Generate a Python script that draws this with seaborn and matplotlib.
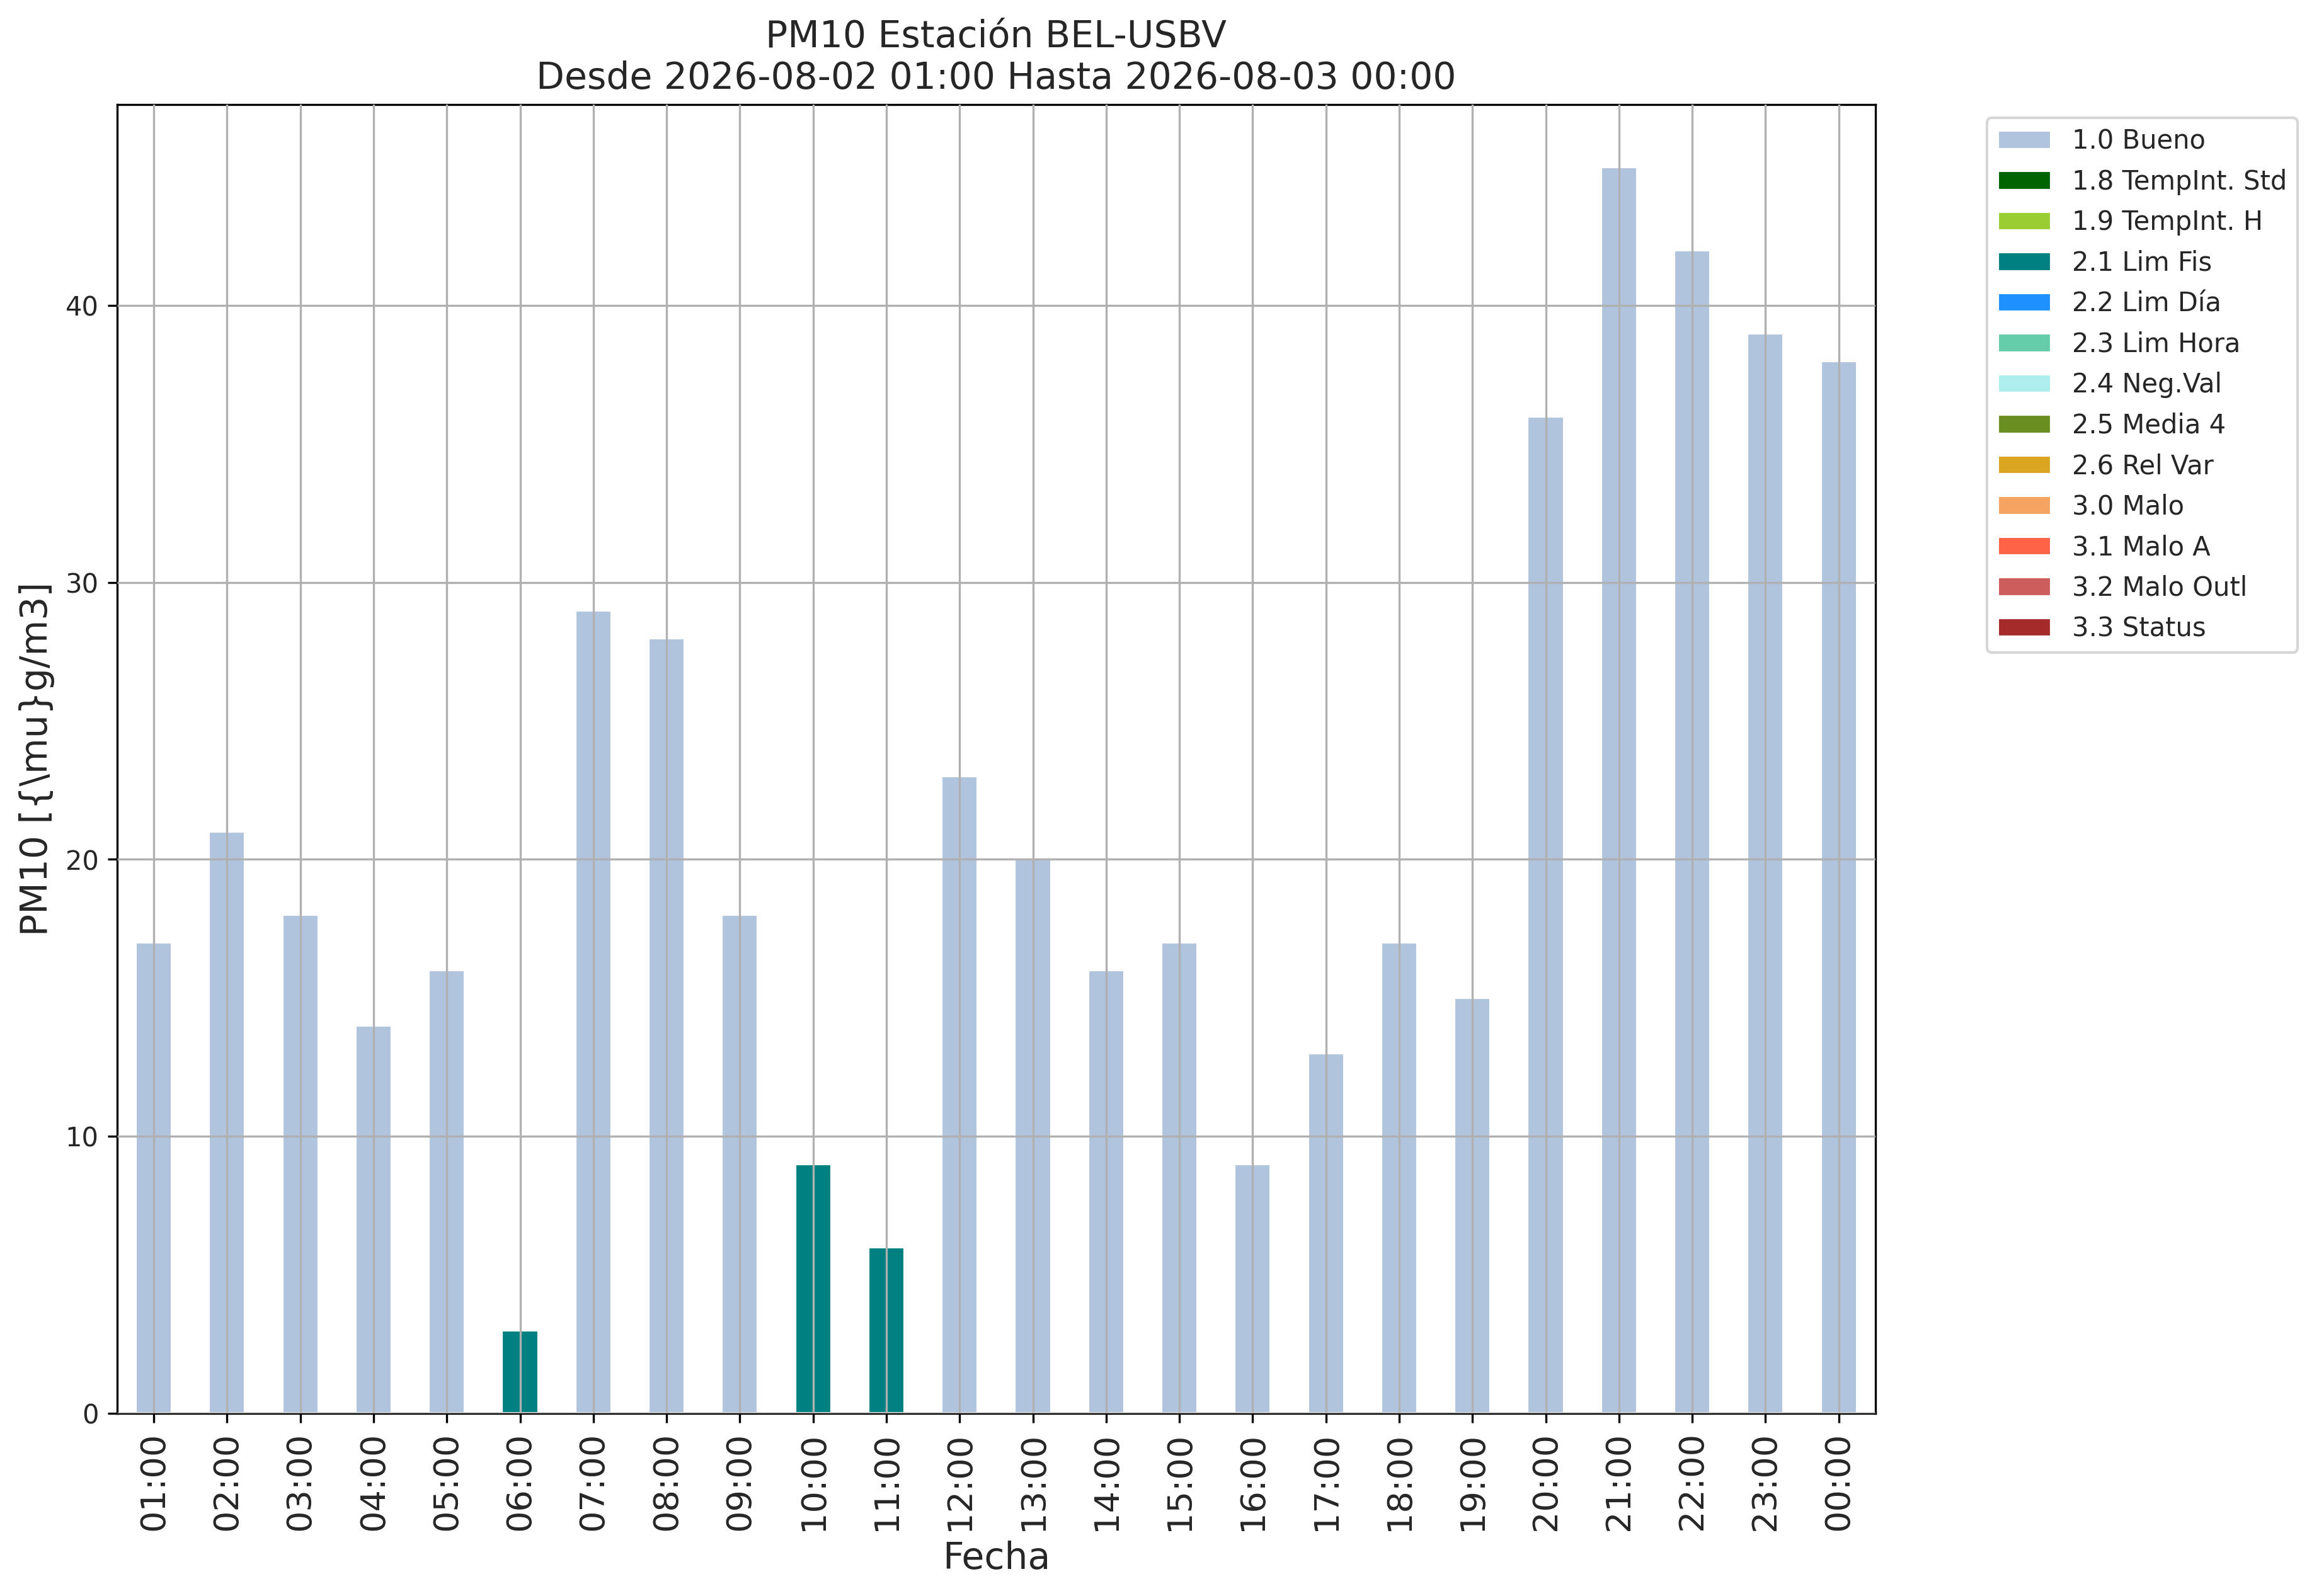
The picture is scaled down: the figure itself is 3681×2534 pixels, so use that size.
import numpy as np
import pandas as pd
import matplotlib
matplotlib.use("Agg")
import matplotlib.pyplot as plt
import seaborn as sns
from matplotlib.patches import Patch

# data
horas = ["01:00", "02:00", "03:00", "04:00", "05:00", "06:00", "07:00", "08:00",
         "09:00", "10:00", "11:00", "12:00", "13:00", "14:00", "15:00", "16:00",
         "17:00", "18:00", "19:00", "20:00", "21:00", "22:00", "23:00", "00:00"]
pm10 = [17, 21, 18, 14, 16, 3, 29, 28, 18, 9, 6, 23, 20, 16, 17, 9, 13, 17, 15,
        36, 45, 42, 39, 38]
flags = ["1.0 Bueno"] * 24
for i in [5, 9, 10]:
    flags[i] = "2.1 Lim Fis"

etiquetas = ["1.0 Bueno", "1.8 TempInt. Std", "1.9 TempInt. H", "2.1 Lim Fis",
             "2.2 Lim Día", "2.3 Lim Hora", "2.4 Neg.Val", "2.5 Media 4",
             "2.6 Rel Var", "3.0 Malo", "3.1 Malo A", "3.2 Malo Outl", "3.3 Status"]
colores = ["lightsteelblue", "darkgreen", "yellowgreen", "teal", "dodgerblue",
           "mediumaquamarine", "paleturquoise", "olivedrab", "goldenrod",
           "sandybrown", "tomato", "indianred", "brown"]
paleta = dict(zip(etiquetas, colores))

df = pd.DataFrame({"Fecha": horas, "PM10": pm10, "flag": flags})

sns.set_style("ticks")
plt.rcParams["font.family"] = ["DejaVu Sans"]

fig = plt.figure(figsize=(12.273, 8.447), dpi=300)
ax = fig.add_axes([0.0505, 0.1144, 0.758, 0.8201])

sns.barplot(data=df, x="Fecha", y="PM10", hue="flag", hue_order=etiquetas,
            order=horas, palette=paleta, dodge=False, width=0.5,
            saturation=1, legend=False, ax=ax)

# grid sits on top of the bars, like the pandas default
ax.set_axisbelow(False)
ax.grid(True, color="#b0b0b0", linewidth=0.8)
ax.set_ylim(0, max(pm10) * 1.05)
ax.set_xlim(-0.5, len(horas) - 0.5)
for s in ax.spines.values():
    s.set_color("black")
    s.set_linewidth(0.8)
ax.tick_params(axis="x", labelsize=13, rotation=90, length=3.5, width=0.8, color="black")
ax.tick_params(axis="y", labelsize=10, length=3.5, width=0.8, color="black")

ax.set_title("PM10 Estación BEL-USBV\nDesde 2026-08-02 01:00 Hasta 2026-08-03 00:00",
             fontsize=14)
ax.set_xlabel("Fecha", fontsize=14)
ax.set_ylabel(r"PM10 [{\mu}g/m3]", fontsize=14)

handles = [Patch(facecolor=c, label=l) for l, c in zip(etiquetas, colores)]
ax.legend(handles=handles, bbox_to_anchor=(1.056, 1), loc="upper left",
          fontsize=10, frameon=True, fancybox=True, edgecolor="#cccccc",
          framealpha=0.8, labelspacing=0.54, handleheight=0.75, handlelength=2.05)

fig.savefig("out.png", dpi=300)
